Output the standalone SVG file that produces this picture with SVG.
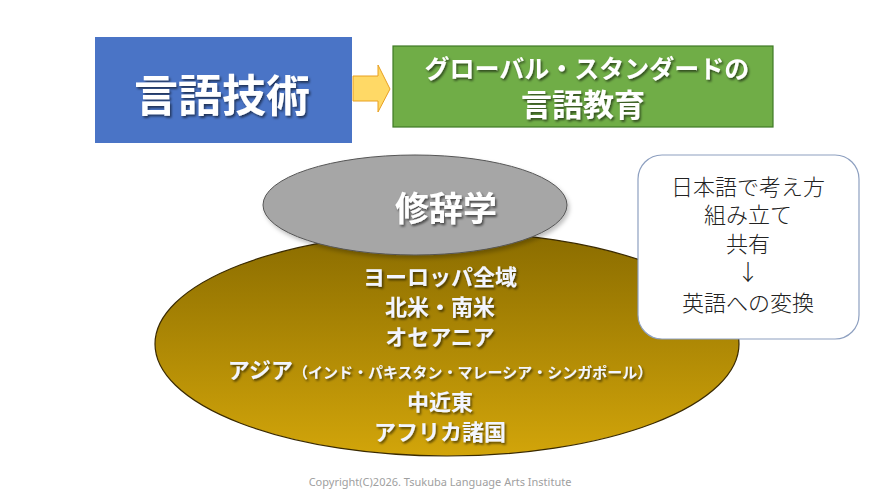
<svg xmlns="http://www.w3.org/2000/svg" width="881" height="496" viewBox="0 0 881 496">
<defs>
<linearGradient id="gold" x1="0" y1="0" x2="0" y2="1">
<stop offset="0" stop-color="#8A6C00"/>
<stop offset="1" stop-color="#D2A50A"/>
</linearGradient>
<filter id="sh" x="-10%" y="-20%" width="130%" height="150%">
<feDropShadow dx="1.5" dy="2" stdDeviation="1" flood-color="#000" flood-opacity="0.55"/>
</filter>
<filter id="bsh" x="-5%" y="-5%" width="115%" height="115%">
<feDropShadow dx="2" dy="3" stdDeviation="2" flood-color="#000" flood-opacity="0.25"/>
</filter>
</defs>
<style>
.jp{font-family:"Noto Sans CJK JP","Noto Sans",sans-serif;text-anchor:middle}
.w{fill:#FFFFFF;font-weight:bold;filter:url(#sh)}
.g{fill:#F2F5FF;font-weight:bold;filter:url(#sh)}
.k{fill:#222;font-weight:300}
</style>
<rect width="881" height="496" fill="#FFFFFF"/>
<g id="gengo-gijutsu">
<rect x="95" y="37" width="257" height="106" fill="#4A74C6"/>
<text class="jp w" x="222" y="112" font-size="44">言語技術</text>
</g>
<g id="connectors">
<polygon points="353,76 378,76 378,65 390,89 378,112 378,101 353,101" fill="#FFD966" stroke="#E8A020" stroke-width="1"/>
</g>
<g id="global-standard">
<rect x="393" y="46" width="380" height="81" fill="#70AD47" stroke="#3F7A26" stroke-width="1.2"/>
<text class="jp w" x="587" y="78" font-size="25">グローバル・スタンダードの</text>
<text class="jp w" x="583" y="116" font-size="31">言語教育</text>
</g>
<g id="regions">
<ellipse cx="447" cy="344" rx="292" ry="112" fill="url(#gold)" stroke="#3A2A00" stroke-width="1.2"/>
<text class="jp g" x="440" y="285" font-size="22">ヨーロッパ全域</text>
<text class="jp g" x="440" y="315" font-size="22">北米・南米</text>
<text class="jp g" x="440" y="345" font-size="22">オセアニア</text>
<text class="jp g" x="440" y="378" font-size="22">アジア<tspan font-size="15">（インド・パキスタン・マレーシア・シンガポール）</tspan></text>
<text class="jp g" x="440" y="410" font-size="22">中近東</text>
<text class="jp g" x="440" y="440" font-size="22">アフリカ諸国</text>
</g>
<g id="shujigaku">
<ellipse cx="415" cy="205" rx="152" ry="50" fill="#A6A6A6" stroke="#555" stroke-width="1" filter="url(#bsh)"/>
<text class="jp w" x="446" y="221" font-size="34">修辞学</text>
</g>
<g id="callout">
<rect x="638" y="155" width="221" height="184" rx="24" ry="24" fill="#FFFFFF" stroke="#8EA0C0" stroke-width="1.2"/>
<text class="jp k" x="748" y="195" font-size="22">日本語で考え方</text>
<text class="jp k" x="748" y="223" font-size="22">組み立て</text>
<text class="jp k" x="748" y="252" font-size="22">共有</text>
<text class="jp k" x="748" y="280" font-size="22">↓</text>
<text class="jp k" x="748" y="311" font-size="22">英語への変換</text>
</g>
<text x="440" y="486" font-family="'Noto Sans','Liberation Sans',sans-serif" font-size="11" fill="#A0A0A0" text-anchor="middle">Copyright(C)2026. Tsukuba Language Arts Institute</text>
</svg>
